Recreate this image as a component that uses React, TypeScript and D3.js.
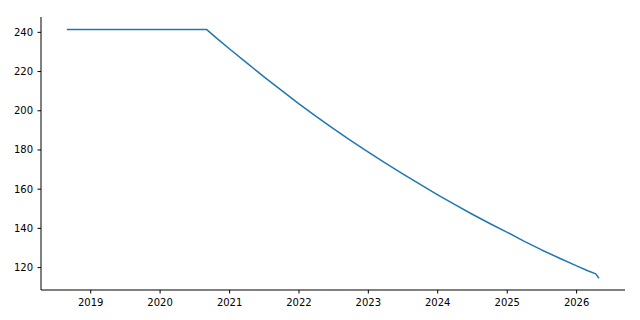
import React from "react";
import * as d3 from "d3";

const dates: string[] = [
  "2018-09-01", "2019-06-01", "2020-03-01", "2020-09-01",
  "2020-11-01", "2021-01-01", "2021-04-01", "2021-07-01", "2021-10-01",
  "2022-01-01", "2022-04-01", "2022-07-01", "2022-10-01",
  "2023-01-01", "2023-04-01", "2023-07-01", "2023-10-01",
  "2024-01-01", "2024-04-01", "2024-07-01", "2024-10-01",
  "2025-01-01", "2025-04-01", "2025-07-01", "2025-10-01",
  "2026-01-01", "2026-03-01", "2026-04-12", "2026-04-26",
];
const values: number[] = [
  241.5, 241.5, 241.5, 241.5,
  236.4, 231.5, 224.4, 217.3, 210.4,
  203.5, 197.1, 190.9, 184.8,
  178.9, 173.3, 167.8, 162.4,
  157.1, 152.1, 147.2, 142.5,
  138.0, 133.4, 129.0, 124.9,
  120.9, 118.4, 116.8, 114.9,
];
const yTicks: number[] = [120, 140, 160, 180, 200, 220, 240];
const xTickYears: number[] = [2019, 2020, 2021, 2022, 2023, 2024, 2025, 2026];

const W = 640, H = 320;
const L = 41, R = 625, T = 17, B = 290;

export default function App() {
  const parse = d3.timeParse("%Y-%m-%d");
  const data = dates.map((d, i) => ({ date: parse(d) as Date, v: values[i] }));
  const [x0, x1] = d3.extent(data, (d) => d.date.getTime()) as [number, number];
  const xPad = (x1 - x0) * 0.05;
  const [y0, y1] = d3.extent(data, (d) => d.v) as [number, number];
  const yPad = (y1 - y0) * 0.05;
  const x = d3.scaleTime().domain([new Date(x0 - xPad), new Date(x1 + xPad)]).range([L, R]);
  const y = d3.scaleLinear().domain([y0 - yPad, y1 + yPad]).range([B, T]);
  const line = d3.line<{ date: Date; v: number }>().x((d) => x(d.date)).y((d) => y(d.v));
  const font = "'DejaVu Sans', sans-serif";
  return (
    <svg width={W} height={H} style={{ position: "absolute", left: 0, top: 0, background: "#fff" }}>
      <rect x={0} y={0} width={W} height={H} fill="#fff" />
      <path d={line(data) || ""} fill="none" stroke="#1f77b4" strokeWidth={1.5} strokeLinejoin="round" strokeLinecap="square" />
      <line x1={L} x2={L} y1={T} y2={B} stroke="#000" strokeWidth={1} />
      <line x1={L} x2={R} y1={B} y2={B} stroke="#000" strokeWidth={1} />
      {yTicks.map((t) => (
        <g key={"y" + t}>
          <line x1={L - 3.5} x2={L} y1={y(t)} y2={y(t)} stroke="#000" strokeWidth={1} />
          <text x={L - 8} y={y(t)} dy="0.35em" textAnchor="end" fontFamily={font} fontSize={10} fill="#000">{t}</text>
        </g>
      ))}
      {xTickYears.map((yr) => {
        const px = x(new Date(yr, 0, 1));
        return (
          <g key={"x" + yr}>
            <line x1={px} x2={px} y1={B} y2={B + 3.5} stroke="#000" strokeWidth={1} />
            <text x={px} y={B + 16} textAnchor="middle" fontFamily={font} fontSize={10} fill="#000">{yr}</text>
          </g>
        );
      })}
    </svg>
  );
}
